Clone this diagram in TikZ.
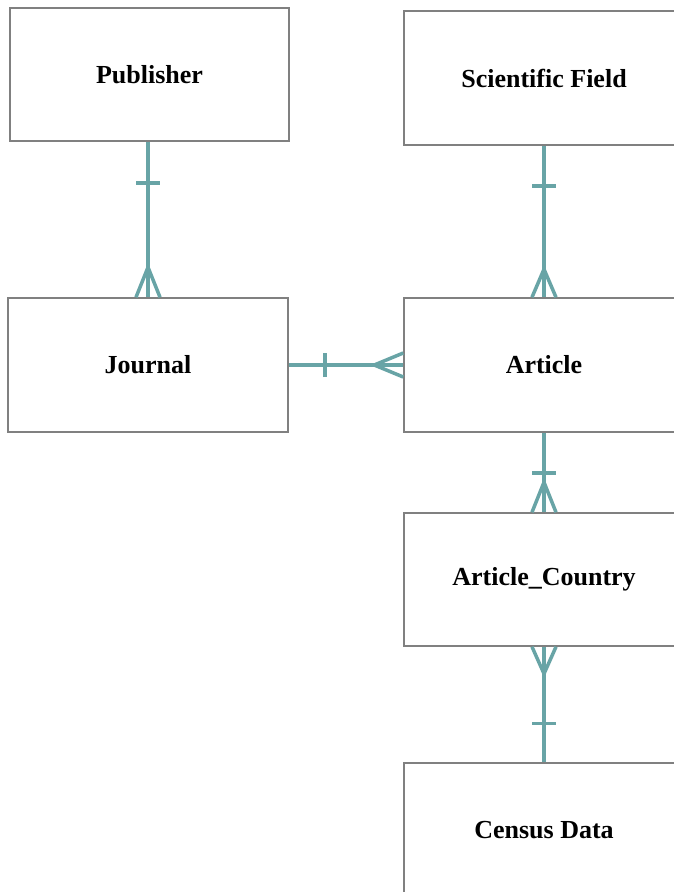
\documentclass[tikz,border=0pt]{standalone}
\usepackage{fontspec}
\setmainfont{Liberation Serif}
\usetikzlibrary{positioning, calc, decorations.markings}
\definecolor{beziehung}{RGB}{104,164,166}
\definecolor{rahmen}{RGB}{128,128,128}
\tikzset{
    entitaet/.style={
        rectangle,
        draw=rahmen,          % Graue Kontur
        fill=white,           % Weiße Füllung
        line width=1.5pt,
        minimum width=280pt,  % Einheitliche Breite aller Entitäten
        minimum height=134pt,
        inner sep=0pt,
        font=\fontsize{26}{30}\selectfont\bfseries
    },
    beziehung/.style={
        draw=beziehung,
        line width=3.5pt
    },
    % Strich für "genau eins" am Anfang bzw. Ende der Linie
    einsanfang/.style={
        postaction={decorate, decoration={markings,
            mark=at position #1 with {\draw[beziehung] (0,-12pt) -- (0,12pt);}}}
    },
    einsende/.style={
        postaction={decorate, decoration={markings,
            mark=at position -#1 with {\draw[beziehung] (0,-12pt) -- (0,12pt);}}}
    },
    % Krähenfuß für "viele"
    vieleanfang/.style={
        postaction={decorate, decoration={markings,
            mark=at position #1 with {\draw[beziehung] (0,0) -- (-#1,12pt) (0,0) -- (-#1,-12pt);}}}
    },
    vieleende/.style={
        postaction={decorate, decoration={markings,
            mark=at position -#1 with {\draw[beziehung] (0,0) -- (#1,12pt) (0,0) -- (#1,-12pt);}}}
    }
}

\begin{document}
\begin{tikzpicture}[x=1pt, y=-1pt]

    % Feste Bildgröße wie im Original
    \clip (0,0) rectangle (674,892);
    \fill[white] (0,0) rectangle (674,892);

    % Entitäten (Mittelpunkte in Pixeln)
    \node[entitaet, minimum width=279pt, minimum height=133pt] (publisher) at (149.5,74.5) {Publisher};
    \node[entitaet] (feld)    at (544,78)    {Scientific Field};
    \node[entitaet] (journal) at (148,365)   {Journal};
    \node[entitaet] (artikel) at (544,365)   {Article};
    \node[entitaet, minimum height=133pt] (land) at (544,579.5) {Article\_Country};
    \node[entitaet] (zensus)  at (544,830)   {Census Data};

    % Beziehungen: eins zu viele
    \draw[beziehung, einsanfang=41pt, vieleende=30pt] (publisher.south -| journal.north) -- (journal.north);
    \draw[beziehung, einsanfang=36pt, vieleende=29pt] (journal.east) -- (artikel.west);
    \draw[beziehung, einsanfang=40pt, vieleende=28pt] (feld.south) -- (artikel.north);
    \draw[beziehung, einsanfang=40pt, vieleende=30pt] (artikel.south) -- (land.north);
    \draw[beziehung, vieleanfang=27pt, einsende=39pt] (land.south) -- (zensus.north);

\end{tikzpicture}
\end{document}
